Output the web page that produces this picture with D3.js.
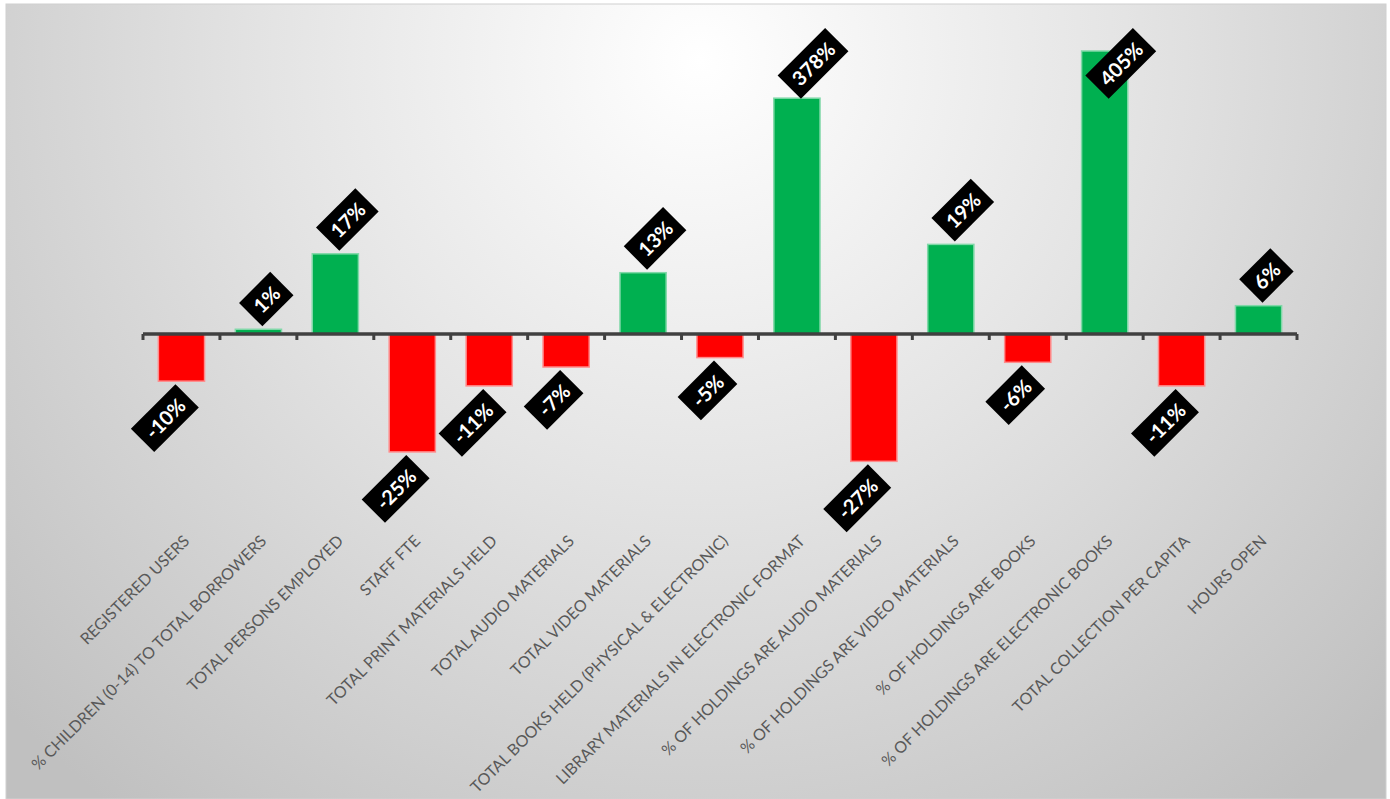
<!DOCTYPE html>
<html>
<head>
<meta charset="utf-8">
<script src="https://cdn.jsdelivr.net/npm/d3@7"></script>
<style>
html,body{margin:0;padding:0;background:#fff;}
svg{display:block;}
</style>
</head>
<body>
<svg id="chart" width="1390" height="799"></svg>
<script>
// ---- data ----
const categories = [
  "REGISTERED USERS",
  "% CHILDREN (0-14) TO TOTAL BORROWERS",
  "TOTAL PERSONS EMPLOYED",
  "STAFF FTE",
  "TOTAL PRINT MATERIALS HELD",
  "TOTAL AUDIO MATERIALS",
  "TOTAL VIDEO MATERIALS",
  "TOTAL BOOKS HELD (PHYSICAL & ELECTRONIC)",
  "LIBRARY MATERIALS IN ELECTRONIC FORMAT",
  "% OF HOLDINGS ARE AUDIO MATERIALS",
  "% OF HOLDINGS ARE VIDEO MATERIALS",
  "% OF HOLDINGS ARE BOOKS",
  "% OF HOLDINGS ARE ELECTRONIC BOOKS",
  "TOTAL COLLECTION PER CAPITA",
  "HOURS OPEN"
];
// percentage change shown in the labels
const changeLabels = [-10, 1, 17, -25, -11, -7, 13, -5, 378, -27, 19, -6, 405, -11, 6];
// bar heights as drawn in the chart (very large values are drawn truncated)
const barValues = [-10, 1, 17, -25, -11, -7, 13, -5, 50, -27, 19, -6, 60, -11, 6];
const yDomain = [-30, 60];

// ---- layout ----
const svg = d3.select("#chart");
const defs = svg.append("defs");
const grad = defs.append("radialGradient")
  .attr("id", "bg").attr("gradientUnits", "userSpaceOnUse")
  .attr("cx", 700).attr("cy", 60).attr("r", 950);
grad.append("stop").attr("offset", "0%").attr("stop-color", "#ffffff");
grad.append("stop").attr("offset", "45%").attr("stop-color", "#e4e4e4");
grad.append("stop").attr("offset", "100%").attr("stop-color", "#c0c0c0");

svg.append("rect").attr("x", 6).attr("y", 4).attr("width", 1380).attr("height", 795)
  .attr("fill", "url(#bg)").attr("stroke", "#d0d0d0").attr("stroke-width", 1);

const x = d3.scaleBand().domain(categories).range([143, 1297])
  .paddingInner(0.4).paddingOuter(0.2);
const y = d3.scaleLinear().domain(yDomain).range([475.5, 51]);
const y0 = y(0);

// bars
const g = svg.append("g");
g.selectAll("rect.bar").data(categories).join("rect")
  .attr("class", "bar")
  .attr("x", d => x(d))
  .attr("width", x.bandwidth())
  .attr("y", (d, i) => Math.min(y(barValues[i]), y0))
  .attr("height", (d, i) => Math.abs(y(barValues[i]) - y0))
  .attr("fill", (d, i) => barValues[i] >= 0 ? "#00b050" : "#ff0000")
  .attr("stroke", (d, i) => barValues[i] >= 0 ? "#80d8a8" : "#ff8c8c")
  .attr("stroke-width", 1.5);

// axis line with ticks between categories
const step = x.step();
const x0 = x.range()[0];
const tickPos = d3.range(categories.length + 1).map(i => x0 + i * step);
g.selectAll("line.tick").data(tickPos).join("line")
  .attr("x1", d => d).attr("x2", d => d)
  .attr("y1", y0).attr("y2", y0 + 6)
  .attr("stroke", "#404040").attr("stroke-width", 3);
g.append("line").attr("x1", x0).attr("x2", x.range()[1])
  .attr("y1", y0).attr("y2", y0)
  .attr("stroke", "#404040").attr("stroke-width", 3.5);

// category labels
g.selectAll("text.cat").data(categories).join("text")
  .attr("class", "cat")
  .attr("transform", d => `translate(${x(d) + x.bandwidth() / 2 + 9},${542}) rotate(-45)`)
  .attr("text-anchor", "end")
  .attr("font-family", "Lato, 'Open Sans', sans-serif")
  .attr("font-size", 16)
  .attr("fill", "#595959")
  .text(d => d);

// value labels in black rotated boxes
const c45 = Math.SQRT1_2;
categories.forEach((cat, i) => {
  const v = barValues[i];
  const cx = x(cat) + x.bandwidth() / 2;
  const lab = svg.append("g");
  const t = lab.append("text")
    .attr("text-anchor", "middle")
    .attr("dominant-baseline", "central")
    .attr("font-family", "Lato, 'Open Sans', sans-serif")
    .attr("font-weight", "bold")
    .attr("font-size", 20)
    .attr("fill", "#ffffff")
    .text(changeLabels[i] + "%");
  const L = t.node().getComputedTextLength() + 16;
  const Hb = 33;
  let mx, my;
  if (v >= 0) {
    // bottom corner of box sits just above the bar
    const bx = cx + 4, by = y(v) - 3;
    mx = bx + c45 * (L / 2 - Hb / 2);
    my = by - c45 * (L / 2 + Hb / 2);
    const minY = 28 + c45 * (L / 2 + Hb / 2);
    if (my < minY) my = minY;
  } else {
    // top corner of box sits just below the bar
    const bx = cx - 6, by = y(v) + 3;
    mx = bx - c45 * (L / 2 - Hb / 2);
    my = by + c45 * (L / 2 + Hb / 2);
  }
  lab.attr("transform", `translate(${mx},${my}) rotate(-45)`);
  lab.insert("rect", "text")
    .attr("x", -L / 2).attr("y", -Hb / 2)
    .attr("width", L).attr("height", Hb)
    .attr("fill", "#000");
});
</script>
</body>
</html>
